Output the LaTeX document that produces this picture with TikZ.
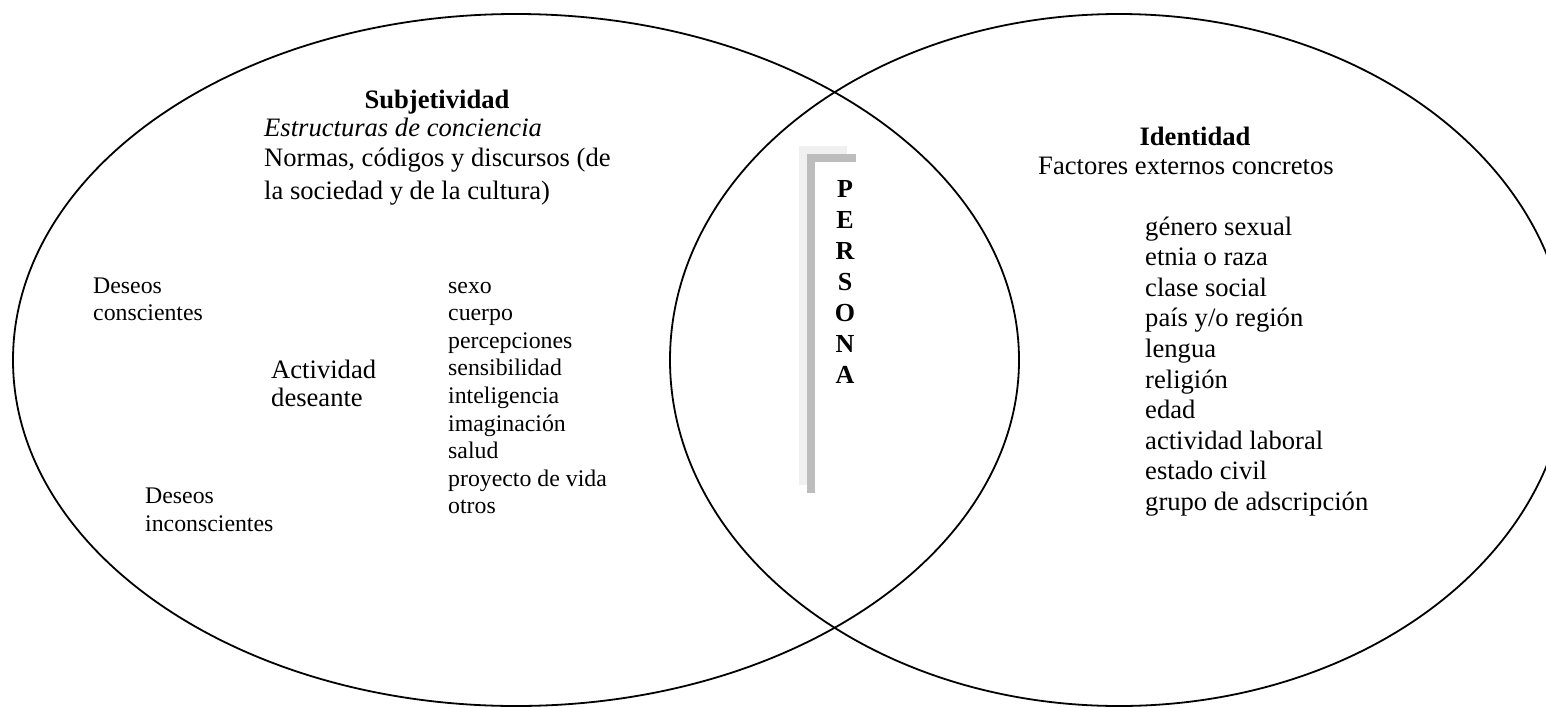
\documentclass[tikz,border=0pt]{standalone}
\usepackage{fontspec}
\setmainfont{Liberation Serif}
\definecolor{shadelight}{HTML}{F0F0F0}
\definecolor{shadedark}{HTML}{BDBDBD}
\tikzset{
  ring/.style={draw=black, line width=1.8pt},
  big/.style={font=\fontsize{26.6}{30}\selectfont, inner sep=0pt, anchor=base west},
  bigc/.style={font=\fontsize{26.6}{30}\selectfont, inner sep=0pt, anchor=base},
  small/.style={font=\fontsize{23.8}{28}\selectfont, inner sep=0pt, anchor=base west},
  letter/.style={font=\fontsize{26}{30}\selectfont\bfseries, inner sep=0pt, anchor=base},
}
\begin{document}
\begin{tikzpicture}[x=1pt, y=-1pt]
\useasboundingbox (0,0) rectangle (1546,707);
\clip (0,0) rectangle (1546,707);
\fill[white] (0,0) rectangle (1546,707);
% ellipses
\draw[ring] (516,360) ellipse [x radius=503pt, y radius=346pt];
\draw[ring] (1119,360) ellipse [x radius=449pt, y radius=346pt];
% PERSONA shaded bars
\fill[shadelight] (799,146) rectangle (807,485);
\fill[shadelight] (799,146) rectangle (847,154);
\fill[shadedark] (807,154) rectangle (815,493);
\fill[shadedark] (807,154) rectangle (856,162);
\foreach \c [count=\i] in {P,E,R,S,O,N,A}
  \node[letter] (p\i) at (845,{197+(\i-1)*31}) {\c};
% left block
\node[bigc, font=\fontsize{26.6}{30}\selectfont\bfseries] (subj) at (437,108) {Subjetividad};
\node[big, font=\fontsize{26.6}{30}\selectfont\itshape] (estr) at (264,136) {Estructuras de conciencia};
\node[big] (norm1) at (264,166) {Normas, códigos y discursos (de};
\node[big] (norm2) at (264,199) {la sociedad y de la cultura)};
\node[small] (dc1) at (93,293) {Deseos};
\node[small] (dc2) at (93,320) {conscientes};
\node[big] (act1) at (271,378) {Actividad};
\node[big] (act2) at (271,406) {deseante};
\foreach \t [count=\i] in {sexo,cuerpo,percepciones,sensibilidad,inteligencia,imaginación,salud,proyecto de vida,otros}
  \node[small] (l\i) at (448,{293+(\i-1)*27.6}) {\t};
\node[small] (di1) at (145,503) {Deseos};
\node[small] (di2) at (145,531) {inconscientes};
% right block
\node[bigc, font=\fontsize{26.6}{30}\selectfont\bfseries] (ident) at (1195,145) {Identidad};
\node[big] (fact) at (1038,174) {Factores externos concretos};
\foreach \t [count=\i] in {género sexual,etnia o raza,clase social,país y/o región,lengua,religión,edad,actividad laboral,estado civil,grupo de adscripción}
  \node[big] (r\i) at (1145,{235+(\i-1)*30.6}) {\t};
\end{tikzpicture}
\end{document}
